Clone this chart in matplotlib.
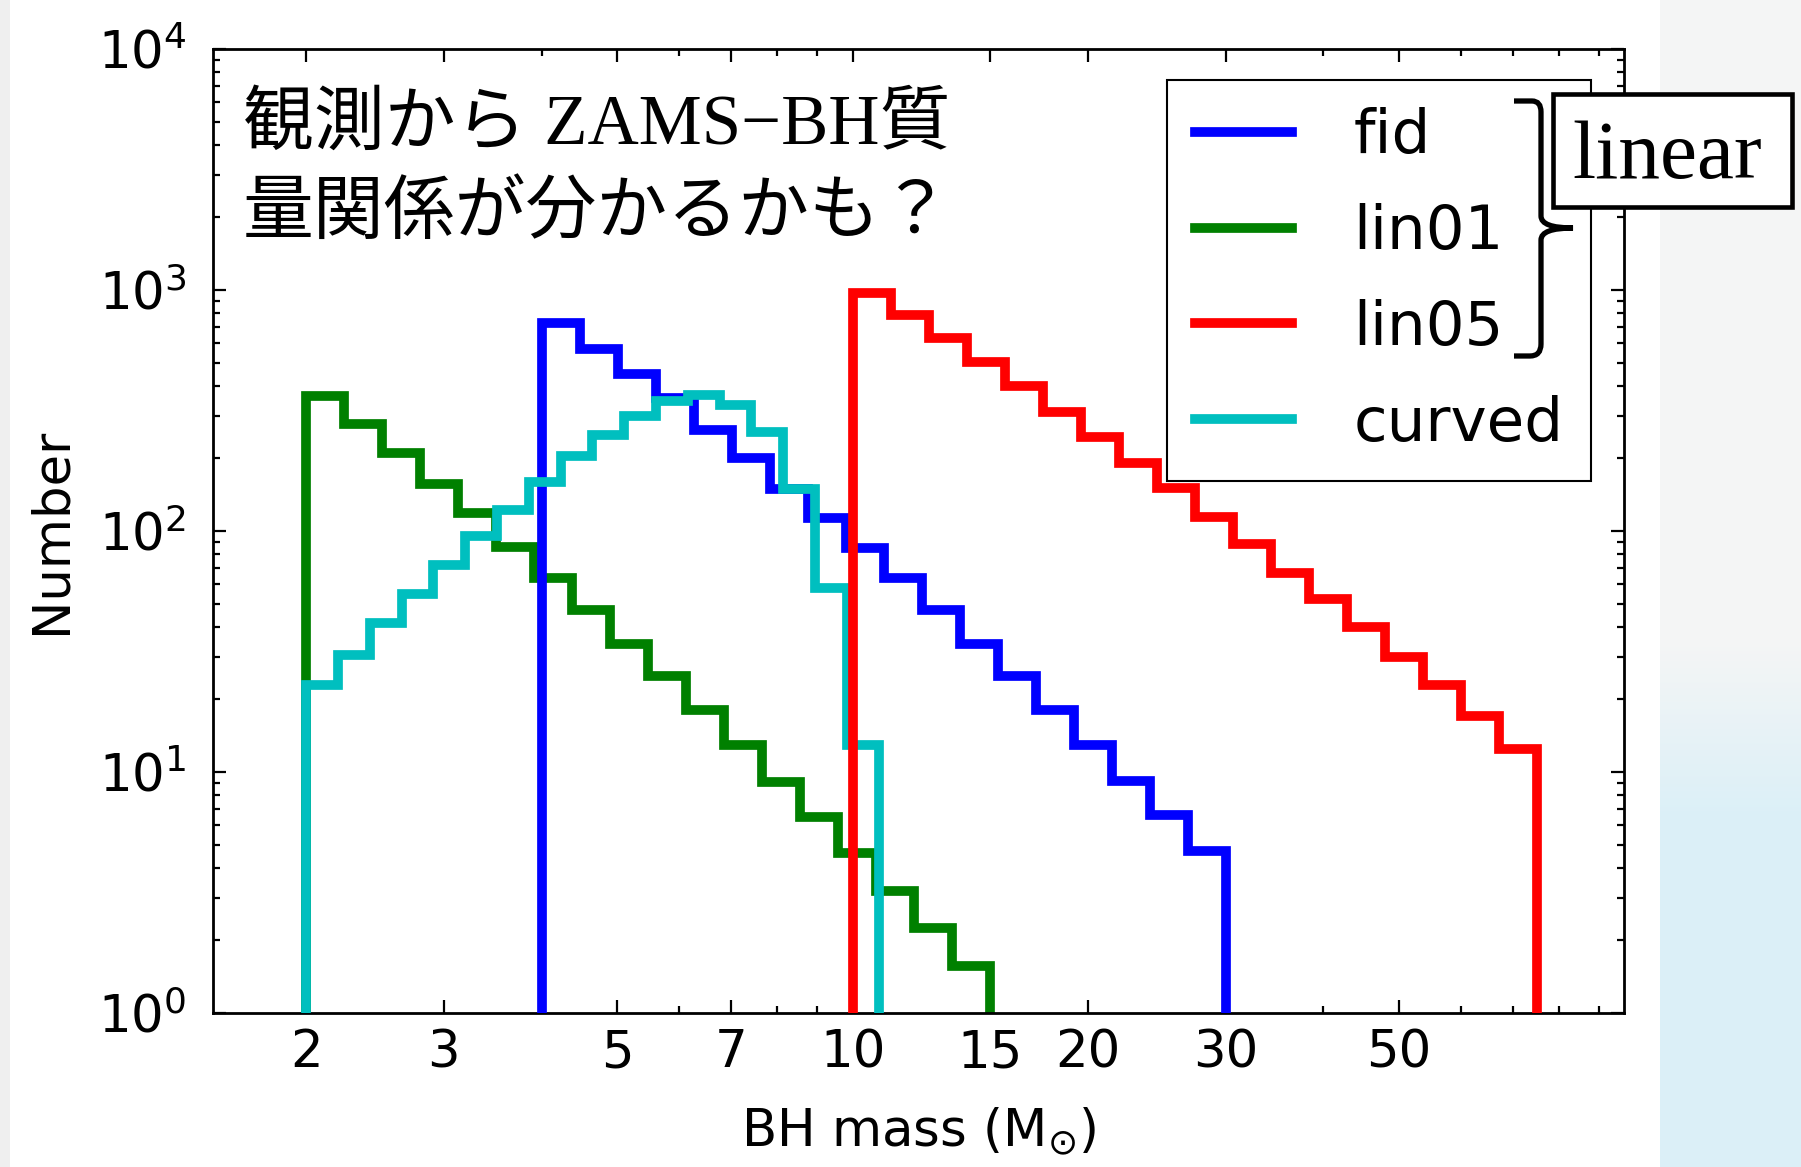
import numpy as np
import matplotlib
matplotlib.use("Agg")
import matplotlib.pyplot as plt
from matplotlib.path import Path
from matplotlib.patches import PathPatch, Rectangle
from matplotlib.ticker import FixedLocator, FixedFormatter, LogLocator, NullFormatter

# BH mass range (Msun) covered by each model, split into equal log bins
fid_range = (4.0, 30.0)
lin01_range = (2.0, 15.0)
lin05_range = (10.0, 75.0)
curved_range = (2.0, 10.8)
n_bins = 18

fid_counts = [730, 569, 448, 356, 263, 201, 150, 113, 85, 64, 47, 34, 25, 18, 13, 9.2, 6.6, 4.7]
lin01_counts = [363, 277, 210, 157, 119, 86, 64, 47, 34, 25, 18, 13, 9.1, 6.5, 4.6, 3.2, 2.25, 1.56]
lin05_counts = [972, 789, 632, 501, 398, 313, 245, 191, 151, 114, 88, 67, 52, 40, 30, 23, 17, 12.4]
curved_counts = [23, 30.5, 41.5, 55, 72, 95, 122, 159, 204, 250, 300, 346, 365, 333, 257, 149, 58, 12.9]

xtick_vals = [2, 3, 5, 7, 10, 15, 20, 30, 50]
xtick_labels = ["2", "3", "5", "7", "10", "15", "20", "30", "50"]

plt.rcParams["font.family"] = "DejaVu Sans"
plt.rcParams["mathtext.fontset"] = "dejavusans"

W, H = 1801, 1167
fig = plt.figure(figsize=(W / 100, H / 100), dpi=100)
fig.patch.set_facecolor("white")


def fx(x):
    return x / W


def fy(y):
    return 1 - y / H


# slide backdrop on the right edge
bg = fig.add_axes([fx(1660), 0, 1 - fx(1660), 1], zorder=0)
rows = np.linspace(0, 1, 400)
top_c = np.array([0.960, 0.962, 0.962])
low_c = np.array([0.86, 0.94, 0.97])
t = np.clip((rows - 0.55) / 0.15, 0, 1)[:, None]
grad = (top_c * (1 - t) + low_c * t)[:, None, :]
bg.imshow(grad, aspect="auto", extent=[0, 1, 0, 1])
bg.axis("off")
fig.patches.append(Rectangle((0, 0), fx(10), 1, transform=fig.transFigure,
                             facecolor="#efefef", edgecolor="none", zorder=0))

ax = fig.add_axes([fx(213), fy(1013), fx(1624) - fx(213), fy(49) - fy(1013)], zorder=1)


def log_edges(rng):
    return np.logspace(np.log10(rng[0]), np.log10(rng[1]), n_bins + 1)


lw = 7
h_fid = ax.stairs(fid_counts, log_edges(fid_range), baseline=1, color="b", lw=lw, zorder=3, label="fid")
h_lin01 = ax.stairs(lin01_counts, log_edges(lin01_range), baseline=1, color="g", lw=lw, zorder=2, label="lin01")
h_lin05 = ax.stairs(lin05_counts, log_edges(lin05_range), baseline=1, color="r", lw=lw, zorder=5, label="lin05")
h_curved = ax.stairs(curved_counts, log_edges(curved_range), baseline=1, color="c", lw=lw, zorder=4, label="curved")

ax.set_xscale("log")
ax.set_yscale("log")
ax.set_xlim(1.52, 97)
ax.set_ylim(1, 1e4)

ax.xaxis.set_major_locator(FixedLocator(xtick_vals))
ax.xaxis.set_major_formatter(FixedFormatter(xtick_labels))
ax.xaxis.set_minor_locator(LogLocator(base=10, subs=np.arange(2, 10)))
ax.xaxis.set_minor_formatter(NullFormatter())
ax.yaxis.set_minor_locator(LogLocator(base=10, subs=np.arange(2, 10)))
ax.yaxis.set_minor_formatter(NullFormatter())

ax.tick_params(which="both", direction="in", top=True, right=True, width=1.6, labelsize=37)
ax.tick_params(which="major", length=9.5)
ax.tick_params(which="minor", length=5)
ax.tick_params(axis="x", which="major", pad=11)
ax.tick_params(axis="y", which="major", pad=19)
for s in ax.spines.values():
    s.set_linewidth(2)

ax.set_xlabel(r"BH mass (M$_{\odot}$)", fontsize=37)
ax.set_ylabel("Number", fontsize=37)
ax.xaxis.set_label_coords(0.5, -0.095)
ax.yaxis.set_label_coords(-0.097, 0.5)

leg = ax.legend(handles=[h_fid, h_lin01, h_lin05, h_curved], loc="upper right",
                bbox_to_anchor=(fx(1591), fy(80)), bbox_transform=fig.transFigure,
                borderaxespad=0, fontsize=44, handlelength=1.6, handletextpad=1.0,
                labelspacing=0.6, borderpad=0.45, fancybox=False, framealpha=1,
                edgecolor="black")
leg.get_frame().set_linewidth(1.5)
leg.set_zorder(10)

# annotation text
fig.text(fx(243), fy(126), "観測から ZAMS−BH質", fontsize=51, va="center", ha="left",
         family=["Liberation Serif", "Noto Sans CJK JP"], zorder=6)
fig.text(fx(243), fy(212), "量関係が分かるかも？", fontsize=51, va="center", ha="left",
         family=["Noto Sans CJK JP", "DejaVu Sans"], zorder=6)

# "linear" tag with a brace over the three linear models
fig.patches.append(Rectangle((fx(1553), fy(207)), fx(1792) - fx(1553), fy(94) - fy(207),
                             transform=fig.transFigure, facecolor="white", edgecolor="black",
                             lw=3.3, zorder=5))
fig.text(fx(1667), fy(178), "linear", fontsize=60, ha="center", va="baseline",
         family="Liberation Serif", zorder=6)

brace_pts = [(1514, 101), (1532, 101), (1541, 101), (1541, 112), (1541, 216),
             (1541, 228), (1573, 228), (1541, 228), (1541, 240), (1541, 344),
             (1541, 356), (1530, 356), (1514, 356)]
brace_codes = [Path.MOVETO, Path.LINETO, Path.CURVE3, Path.CURVE3, Path.LINETO,
               Path.CURVE3, Path.CURVE3, Path.CURVE3, Path.CURVE3, Path.LINETO,
               Path.CURVE3, Path.CURVE3, Path.LINETO]
brace = Path([(fx(x), fy(y)) for x, y in brace_pts], brace_codes)
fig.patches.append(PathPatch(brace, transform=fig.transFigure, facecolor="none",
                             edgecolor="black", lw=3.8, zorder=6))

fig.savefig("out.png", dpi=100)
